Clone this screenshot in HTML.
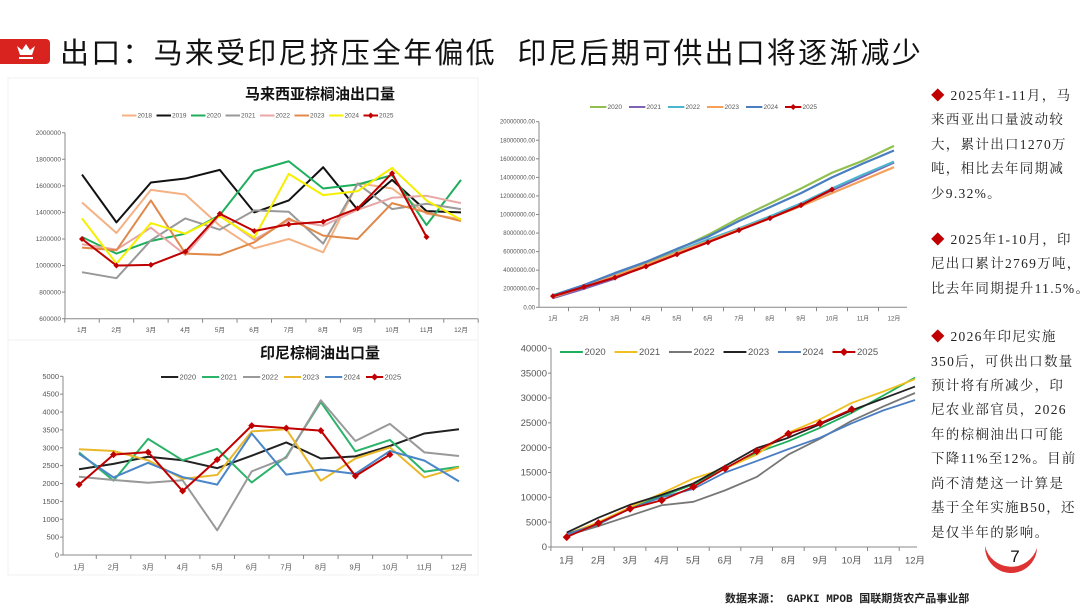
<!DOCTYPE html>
<html><head><meta charset="utf-8">
<style>
body{margin:0;width:1080px;height:608px;background:#fff;overflow:hidden;position:relative;font-family:"Liberation Sans","Noto Sans CJK SC",sans-serif;}
#title{position:absolute;left:60px;top:30px;font-size:29px;color:#111;letter-spacing:2.2px;white-space:nowrap;}
#icon{position:absolute;left:0;top:39px;width:50px;height:25px;background:#d9231f;border-radius:0 4px 4px 0;}
.ct{position:absolute;font-size:15px;font-weight:bold;color:#111;white-space:nowrap;}
#notes{position:absolute;left:931px;top:84px;width:160px;font-family:"Liberation Serif","Noto Serif CJK SC",serif;font-size:13.5px;line-height:24.4px;color:#222;letter-spacing:1.3px;white-space:nowrap;}
#notes p{margin:0 0 22px 0;}
.dia{color:#c00000;}
#src{position:absolute;left:725px;top:590px;font-size:11px;font-weight:bold;color:#222;font-family:"Liberation Mono","Noto Sans CJK SC",monospace;}
</style></head><body>
<div id="icon"><svg width="50" height="25"><path d="M17 7 L20 16 L32 16 L35 7 L30 11 L26 5 L22 11 Z" fill="#fff"/><rect x="19" y="18" width="14" height="2" fill="#fff"/></svg></div>
<div id="title">出口：马来受印尼挤压全年偏低&nbsp;&nbsp;印尼后期可供出口将逐渐减少</div>
<div class="ct" style="left:245px;top:83px">马来西亚棕榈油出口量</div>
<div class="ct" style="left:260px;top:342px">印尼棕榈油出口量</div>
<svg id="svg" width="1080" height="608" style="position:absolute;left:0;top:0"></svg>
<div id="notes">
<p><span class="dia">◆</span> 2025年1-11月，马<br>来西亚出口量波动较<br>大，累计出口1270万<br>吨，相比去年同期减<br>少9.32%。</p>
<p style="margin-bottom:24px"><span class="dia">◆</span> 2025年1-10月，印<br>尼出口累计2769万吨，<br>比去年同期提升11.5%。</p>
<p><span class="dia">◆</span> 2026年印尼实施<br>350后，可供出口数量<br>预计将有所减少，印<br>尼农业部官员，2026<br>年的棕榈油出口可能<br>下降11%至12%。目前<br>尚不清楚这一计算是<br>基于全年实施B50，还<br>是仅半年的影响。</p>
</div>
<div id="src">数据来源： GAPKI MPOB  国联期货农产品事业部</div>
<svg style="position:absolute;left:980px;top:538px" width="60" height="50"><path d="M5 8 A27 27 0 0 0 57 10 A22 22 0 0 1 5 8Z" fill="#d33"/><text x="35" y="24" font-size="17" text-anchor="middle" fill="#111" font-family="Liberation Sans">7</text></svg>
<script>
const months = ["1月","2月","3月","4月","5月","6月","7月","8月","9月","10月","11月","12月"];
// Malaysia monthly exports (tonnes)
const myNames = ["2018","2019","2020","2021","2022","2023","2024","2025"];
const my2018 = [1475000,1245000,1570000,1535000,1300000,1130000,1200000,1100000,1620000,1580000,1390000,1350000];
const my2019 = [1685000,1325000,1625000,1655000,1720000,1400000,1490000,1740000,1420000,1645000,1410000,1400000];
const my2020 = [1215000,1090000,1185000,1240000,1380000,1710000,1785000,1580000,1610000,1680000,1305000,1645000];
const my2021 = [950000,905000,1190000,1355000,1270000,1415000,1405000,1165000,1615000,1425000,1465000,1425000];
const my2022 = [1160000,1120000,1285000,1080000,1380000,1195000,1340000,1300000,1420000,1510000,1525000,1470000];
const my2023 = [1135000,1115000,1490000,1090000,1080000,1175000,1355000,1225000,1200000,1470000,1400000,1335000];
const my2024 = [1355000,1015000,1320000,1240000,1370000,1210000,1690000,1530000,1560000,1735000,1490000,1345000];
const my2025 = [1200000,1000000,1005000,1105000,1390000,1260000,1310000,1330000,1430000,1695000,1215000];
const myTicks = [600000,800000,1000000,1200000,1400000,1600000,1800000,2000000];
// Indonesia monthly exports (kt)
const idNames = ["2020","2021","2022","2023","2024","2025"];
const id2020 = [2400,2550,2750,2650,2430,2780,3150,2700,2760,3050,3400,3520];
const id2021 = [2870,2080,3250,2650,2970,2030,2750,4280,2900,3220,2330,2470];
const id2022 = [2190,2100,2020,2090,690,2340,2720,4330,3190,3670,2870,2770];
const id2023 = [2960,2910,2650,2130,2240,3460,3520,2080,2700,3010,2170,2450];
const id2024 = [2830,2170,2580,2180,1970,3400,2250,2390,2270,2910,2640,2060];
const id2025 = [1970,2810,2880,1790,2670,3620,3550,3480,2210,2810];
const idTicks = [0,500,1000,1500,2000,2500,3000,3500,4000,4500,5000];
// Malaysia cumulative
const mcNames = ["2020","2021","2022","2023","2024","2025"];
const mc2020 = [1200000,2300000,3500000,4800000,6200000,7800000,9600000,11200000,12800000,14500000,15800000,17400000];
const mc2021 = [1000000,2000000,3100000,4500000,5800000,7200000,8500000,9700000,11100000,12600000,14100000,15600000];
const mc2022 = [1200000,2300000,3500000,4600000,6000000,7300000,8500000,9800000,11200000,12800000,14300000,15700000];
const mc2023 = [1100000,2200000,3400000,4600000,5900000,7100000,8400000,9600000,10900000,12300000,13700000,15100000];
const mc2024 = [1300000,2400000,3700000,4900000,6300000,7600000,9300000,10800000,12300000,14000000,15500000,16900000];
const mc2025 = [1200000,2200000,3200000,4400000,5700000,7000000,8300000,9600000,11000000,12700000];
const mcTicks = [0,2000000,4000000,6000000,8000000,10000000,12000000,14000000,16000000,18000000,20000000];
// Indonesia cumulative
const icNames = ["2020","2021","2022","2023","2024","2025"];
const ic2020 = [2500,4500,8000,10200,12600,15800,19000,21300,24000,27000,30500,34100];
const ic2021 = [2600,5000,8000,10800,13800,15800,18600,23000,25700,29000,31300,33800];
const ic2022 = [2300,4200,6300,8400,9100,11400,14100,18600,21800,25400,28300,31000];
const ic2023 = [2900,5900,8500,10500,12800,16300,19900,22000,24700,27500,29900,32300];
const ic2024 = [2600,4600,7700,10000,11700,15000,17300,19700,22000,24900,27500,29600];
const ic2025 = [2000,4800,7700,9400,12100,15800,19300,22800,24900,27700];
const icTicks = [0,5000,10000,15000,20000,25000,30000,35000,40000];

const NS="http://www.w3.org/2000/svg";
const svg=document.getElementById('svg');
function mk(tag,attrs,parent){const e=document.createElementNS(NS,tag);for(const k in attrs)e.setAttribute(k,attrs[k]);(parent||svg).appendChild(e);return e;}

function chart(c){
  const g=mk('g',{});
  
  
  const ymin=c.ticks[0],ymax=c.ticks[c.ticks.length-1];
  const yS=v=>c.y0-(v-ymin)/(ymax-ymin)*(c.y0-c.y1);
  const step=(c.x12-c.x1)/11;
  const xS=i=>c.x1+i*step;
  const ax=mk('line',{x1:c.ax,y1:c.y1,x2:c.ax,y2:c.y0,stroke:'#888','stroke-width':1},g);
  
  
  const bx=mk('line',{x1:c.ax,y1:c.y0,x2:c.xEnd,y2:c.y0,stroke:'#888','stroke-width':1},g);
  
  
  c.ticks.forEach(t=>{
    const y=yS(t);
    mk('line',{x1:c.ax-3,y1:y,x2:c.ax,y2:y,stroke:'#888'},g);
    const tx=mk('text',{x:c.ax-4,y:y+c.fs/3,'font-size':c.fs,'text-anchor':'end',fill:'#555'},g);
    tx.textContent=c.fmt?c.fmt(t):t;
    
    
  });
  for(let i=0;i<=12;i++){const x=c.x1-step/2+i*step; if(x>=c.ax-1&&x<=c.xEnd+1) mk('line',{x1:x,y1:c.y0,x2:x,y2:c.y0+4,stroke:'#888'},g);}
  months.forEach((m,i)=>{
    const tx=mk('text',{x:xS(i),y:c.y0+c.fs+7,'font-size':c.fs,'text-anchor':'middle',fill:'#555'},g);
    tx.textContent=m;
    
    
  });
  c.series.forEach((s,k)=>{
    const pts=s.data.map((v,i)=>xS(i)+','+yS(v)).join(' ');
    const pl=mk('polyline',{points:pts,fill:'none',stroke:c.colors[k],'stroke-width':c.sw||2,'stroke-linejoin':'round'},g);
    
    
    if(s.marker){s.data.forEach((v,i)=>{
      const m=mk('path',{d:`M${xS(i)} ${yS(v)-c.ms} L${xS(i)+c.ms} ${yS(v)} L${xS(i)} ${yS(v)+c.ms} L${xS(i)-c.ms} ${yS(v)}Z`,fill:c.colors[k]},g);
      
      
    });}
    const lx=c.lx+k*c.lw;
    const ll=mk('line',{x1:lx,y1:c.ly,x2:lx+c.lw*0.42,y2:c.ly,stroke:c.colors[k],'stroke-width':2},g);
    
    
    if(s.marker){const cx=lx+c.lw*0.21;mk('path',{d:`M${cx} ${c.ly-c.ms} L${cx+c.ms} ${c.ly} L${cx} ${c.ly+c.ms} L${cx-c.ms} ${c.ly}Z`,fill:c.colors[k]},g);}
    const lt=mk('text',{x:lx+c.lw*0.45,y:c.ly+c.lfs/3,'font-size':c.lfs,fill:'#555'},g);
    lt.textContent=s.name;
    
    
  });
}
function ser(names,arrs){return names.map((n,i)=>({name:n,data:arrs[i],marker:n==="2025"}));}

mk('rect',{x:8,y:78,width:470,height:262,fill:'none',stroke:'#f0f0f0'});
mk('rect',{x:8,y:340,width:470,height:235,fill:'none',stroke:'#f0f0f0'});

chart({id:'malaysia-exports-chart',ticks:myTicks,y0:318.7,y1:132.7,ax:65,x1:82,x12:461,xEnd:478,fs:6.5,
 series:ser(myNames,[my2018,my2019,my2020,my2021,my2022,my2023,my2024,my2025]),
 colors:['#f4b183','#111','#1fae5b','#999','#e8a7a7','#e0894a','#f5f000','#c00000'],
 lx:122,lw:34.5,ly:115.5,lfs:6.5,ms:3,sw:2});
chart({id:'indonesia-exports-chart',ticks:idTicks,y0:555,y1:376.3,ax:63,x1:79,x12:459,xEnd:472,fs:7.5,
 series:ser(idNames,[id2020,id2021,id2022,id2023,id2024,id2025]),
 colors:['#222','#2cb36a','#999','#e8b82a','#4a86c8','#c00000'],
 lx:161,lw:41,ly:377,lfs:7.5,ms:3.5,sw:2});
chart({id:'malaysia-cumulative-chart',ticks:mcTicks,y0:307.3,y1:121.7,ax:539,x1:553,x12:894,xEnd:907,fs:6,
 fmt:t=>t.toFixed(2),
 series:ser(mcNames,[mc2020,mc2021,mc2022,mc2023,mc2024,mc2025]),
 colors:['#92c050','#7f62b0','#4bb5d0','#f5a05a','#4a7ec0','#c00000'],
 lx:590,lw:39,ly:107,lfs:6.5,ms:3,sw:2.2});
chart({id:'indonesia-cumulative-chart',ticks:icTicks,y0:547,y1:348.3,ax:551,x1:566.7,x12:915,xEnd:917,fs:9.5,
 series:ser(icNames,[ic2020,ic2021,ic2022,ic2023,ic2024,ic2025]),
 colors:['#1fae5b','#f0c020','#777','#222','#4a7ec0','#c00000'],
 lx:560,lw:54.5,ly:352,lfs:9.5,ms:4,sw:1.8});
</script>
</body></html>
